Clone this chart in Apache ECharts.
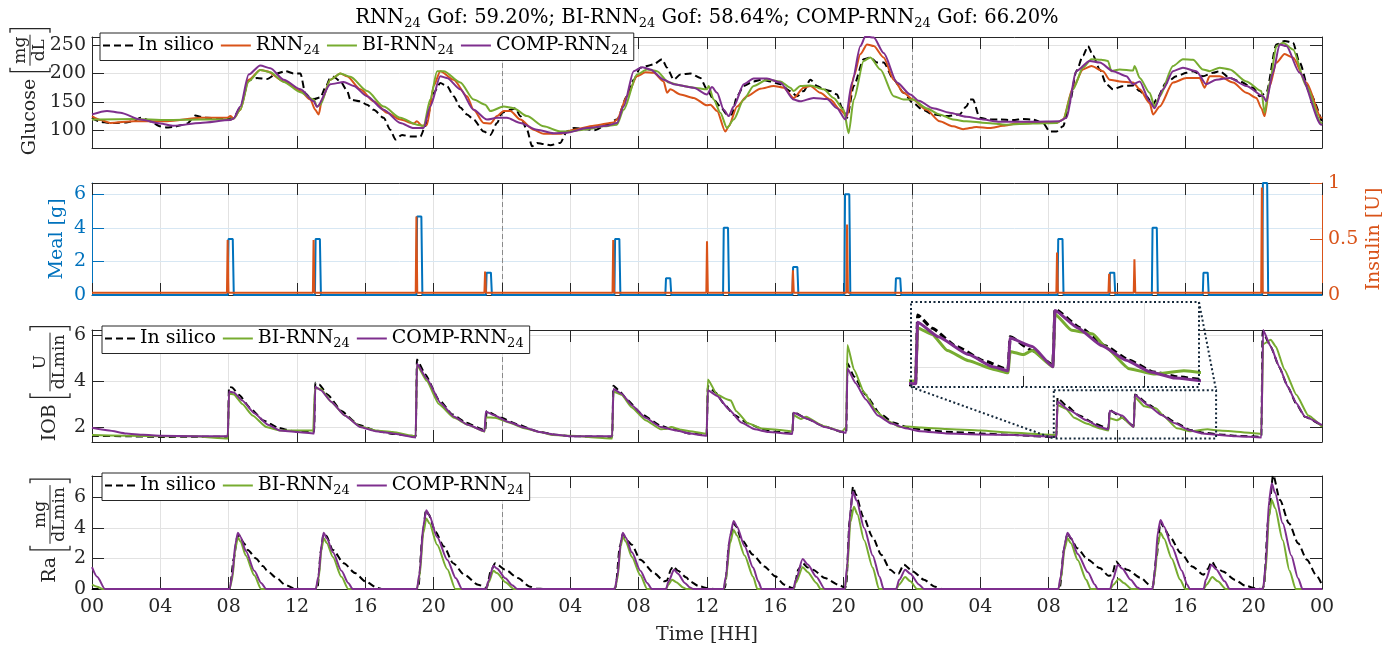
<!DOCTYPE html>
<html><head><meta charset="utf-8">
<script src="https://cdn.jsdelivr.net/npm/echarts@6/dist/echarts.min.js"></script>
<style>html,body{margin:0;padding:0;background:#fff}#c{width:1396px;height:650px}</style>
</head><body><div id="c"></div>
<script>
// ---------------- DATA (hours, value) ----------------
const gofValues = ['59.20', '58.64', '66.20'];
const gluTicks = [100, 150, 200, 250];
const mealTicks = [0, 2, 4, 6];
const iobTicks = [2, 4, 6];
const raTicks = [0, 2, 4, 6];
const insetXTicks = [60, 64];
const insetYTicks = [2];
const zoomX = [56.3, 65.8];
const zoomY = [1.5, 3.6];
const daySeparators = [24, 48];

const gluInSilico = [[0,122],[0.49,115],[1.0,113],[1.46,113],[2.0,114],[2.44,116],[2.83,122],[3.1,120],[3.41,116],[4.0,107],[4.39,105],[4.78,106],[5.2,109],[5.56,112],[6.05,126],[6.4,124],[6.73,122],[7.3,121],[7.9,120],[8.29,122],[8.68,140],[9.17,188],[9.66,192],[10.24,190],[10.83,200],[11.32,204],[11.8,200],[12.2,200],[12.49,165],[12.78,157],[13.0,155],[13.37,158],[13.66,175],[13.95,192],[14.15,194],[14.54,186],[14.93,170],[15.12,154],[15.71,151],[16.1,145],[16.49,136],[17.07,122],[17.46,101],[17.76,84],[18.15,92],[18.63,89],[19.22,89],[19.51,107],[20.0,166],[20.39,183],[20.78,178],[21.17,160],[21.56,140],[21.95,128],[22.34,119],[22.93,98],[23.32,92],[23.71,113],[24.0,131],[24.49,136],[24.78,139],[25.07,125],[25.46,101],[25.76,72],[26.05,78],[26.44,76],[26.83,74],[27.41,78],[27.8,98],[28.2,104],[28.98,102],[29.37,100],[30.15,110],[30.73,119],[31.32,160],[31.71,189],[32.1,210],[32.49,213],[32.88,216],[33.37,225],[33.66,210],[34.05,189],[34.44,198],[35.02,200],[35.61,192],[36.0,172],[36.39,154],[36.78,142],[37.17,128],[37.46,128],[37.76,160],[38.15,178],[38.73,186],[39.22,189],[39.71,186],[40.29,181],[40.88,169],[41.27,160],[41.66,169],[42.05,189],[42.44,178],[42.83,172],[43.22,169],[43.61,163],[43.9,140],[44.2,122],[44.59,178],[45.17,225],[45.56,228],[45.95,219],[46.34,219],[46.93,189],[47.51,166],[48.06,148],[48.64,136],[49.23,128],[50.01,125],[50.79,128],[51.18,142],[51.4,154],[51.57,154],[51.96,122],[52.55,119],[53.13,119],[53.91,118],[54.5,120],[55.08,119],[55.67,113],[56.06,98],[56.45,98],[56.84,107],[57.23,148],[57.62,204],[58.01,231],[58.3,248],[58.6,231],[58.99,207],[59.38,181],[59.77,172],[60.35,178],[60.94,179],[61.33,169],[61.72,160],[62.11,145],[62.3,154],[62.89,184],[63.47,195],[64.06,201],[64.45,204],[65.03,195],[65.62,201],[66.01,204],[66.6,192],[67.18,186],[67.96,175],[68.35,160],[68.74,166],[69.33,251],[69.81,257],[70.3,254],[70.69,219],[71.28,166],[72,114]];
const gluRNN = [[0,125],[0.5,118],[1.07,113],[2.44,116],[4.39,116],[6.34,122],[7.9,122],[8.1,125],[8.29,121],[8.68,136],[9.17,189],[9.85,206],[10.24,204],[11.22,186],[12.2,169],[12.78,154],[13.07,136],[13.27,128],[13.46,154],[13.95,189],[14.54,200],[14.93,195],[15.71,172],[16.49,151],[17.27,131],[18.05,119],[18.83,112],[19.02,116],[19.32,108],[19.61,110],[20.0,178],[20.39,204],[21.17,189],[21.95,160],[22.34,136],[22.93,113],[23.32,112],[23.71,125],[24.1,134],[24.49,134],[25.07,119],[25.85,101],[26.44,94],[27.41,94],[28.2,101],[29.37,108],[30.54,114],[30.73,119],[31.32,160],[31.9,195],[32.39,202],[32.88,201],[33.46,186],[33.66,166],[33.85,172],[34.44,163],[35.22,157],[36.0,144],[36.2,145],[36.59,134],[37.07,98],[37.27,107],[37.76,142],[38.34,160],[39.12,173],[39.9,178],[40.49,175],[41.07,157],[41.66,175],[42.05,178],[42.63,166],[43.22,154],[43.8,136],[44.2,125],[44.59,195],[44.98,234],[45.37,251],[45.76,248],[46.34,228],[46.93,189],[47.51,166],[48.06,154],[48.84,136],[49.62,116],[50.4,107],[50.99,102],[51.77,106],[52.55,104],[53.33,108],[54.11,112],[55.08,113],[56.45,113],[56.84,119],[57.42,175],[58.01,207],[58.5,213],[59.18,204],[59.57,189],[60.16,186],[60.94,184],[61.33,172],[61.91,148],[62.11,128],[62.5,142],[63.28,184],[64.06,192],[64.84,192],[65.13,175],[65.42,195],[66.01,195],[66.79,184],[67.57,166],[68.16,157],[68.45,139],[68.64,125],[68.94,178],[69.33,219],[69.81,234],[70.3,228],[71.08,184],[71.96,122],[72,121]];
const gluBI = [[0,119],[2.44,120],[4.39,118],[6.34,119],[8.1,119],[8.29,121],[8.68,136],[9.17,186],[9.85,206],[10.44,202],[11.22,185],[12.2,167],[12.98,154],[13.17,142],[13.37,145],[13.95,189],[14.54,200],[15.12,194],[16.1,169],[17.07,142],[18.05,122],[19.02,110],[19.41,108],[19.8,154],[20.2,204],[20.59,204],[21.56,184],[22.34,154],[23.02,145],[23.32,134],[24.1,142],[24.68,139],[25.46,125],[26.44,107],[27.41,98],[28.0,98],[28.98,102],[29.95,107],[30.73,110],[31.12,136],[31.9,198],[32.49,207],[33.07,204],[33.76,184],[34.44,179],[35.22,175],[36.0,172],[36.1,178],[36.39,154],[36.78,131],[37.17,104],[37.56,119],[38.15,154],[38.73,178],[39.51,189],[40.29,186],[40.88,175],[41.07,169],[41.46,178],[42.05,179],[42.83,172],[43.41,157],[44.0,136],[44.29,95],[44.59,154],[45.17,222],[45.56,228],[46.15,207],[46.93,160],[47.51,154],[48.06,154],[48.84,139],[49.62,128],[50.4,119],[51.18,116],[52.35,113],[53.52,110],[55.08,112],[56.45,113],[56.84,119],[57.42,172],[58.01,210],[58.5,225],[59.08,224],[59.47,222],[59.67,204],[60.16,207],[60.94,205],[61.03,213],[61.33,192],[61.91,166],[62.2,142],[62.5,160],[63.28,213],[63.86,225],[64.45,224],[65.03,207],[65.42,204],[66.01,210],[66.6,207],[67.57,186],[68.45,169],[68.64,131],[68.94,184],[69.33,248],[69.72,254],[70.3,242],[71.08,178],[71.96,113],[72,112]];
const gluCOMP = [[0,128],[0.88,134],[1.66,131],[2.83,119],[4.0,112],[4.78,108],[6.34,113],[8.1,118],[8.29,121],[8.68,142],[9.17,198],[9.85,214],[10.44,209],[11.22,189],[12.2,172],[12.98,151],[13.17,141],[13.95,181],[14.73,185],[15.32,178],[16.1,160],[17.07,136],[18.05,113],[18.83,104],[19.41,104],[19.8,142],[20.39,195],[20.78,192],[21.56,172],[22.34,136],[23.12,119],[23.71,122],[24.29,122],[25.07,113],[26.05,101],[27.02,95],[27.8,96],[28.98,104],[30.15,108],[30.73,113],[31.12,142],[31.71,204],[32.2,211],[32.68,207],[33.46,189],[34.05,181],[35.22,175],[36.0,163],[36.29,176],[36.59,166],[36.98,136],[37.27,125],[37.56,142],[38.15,181],[38.73,191],[39.51,191],[40.29,184],[41.07,154],[41.46,151],[42.24,157],[43.02,155],[43.61,139],[44.1,119],[44.49,184],[44.98,248],[45.27,265],[45.76,263],[46.34,236],[47.12,184],[47.9,163],[48.4,152],[49.23,139],[50.2,131],[51.18,124],[52.16,119],[53.13,115],[55.08,115],[56.64,116],[57.03,122],[57.62,204],[58.4,222],[58.99,219],[59.77,204],[60.55,195],[60.94,181],[61.33,186],[61.91,151],[62.2,139],[62.69,172],[63.28,204],[63.86,210],[64.64,204],[65.23,181],[65.81,189],[66.6,192],[67.57,178],[68.55,160],[68.74,151],[69.13,201],[69.52,251],[69.91,248],[70.69,201],[71.96,110],[72,109]];

const mealData = [[0,0],[7.95,0],[7.99,3.33],[8.24,3.33],[8.3,0],[13.05,0],[13.09,3.33],[13.34,3.33],[13.4,0],[18.99,0],[19.03,4.67],[19.28,4.67],[19.34,0],[23.06,0],[23.1,1.33],[23.35,1.33],[23.41,0],[30.58,0],[30.62,3.33],[30.87,3.33],[30.93,0],[33.56,0],[33.6,1.0],[33.85,1.0],[33.91,0],[36.94,0],[36.98,4.0],[37.23,4.0],[37.29,0],[41.0,0],[41.04,1.67],[41.29,1.67],[41.35,0],[44.04,0],[44.08,6.0],[44.33,6.0],[44.39,0],[47.02,0],[47.06,1.0],[47.31,1.0],[47.37,0],[56.52,0],[56.56,3.33],[56.81,3.33],[56.87,0],[59.55,0],[59.59,1.33],[59.84,1.33],[59.9,0],[62.04,0],[62.08,4.0],[62.33,4.0],[62.39,0],[65.02,0],[65.06,1.33],[65.31,1.33],[65.37,0],[68.5,0],[68.54,6.67],[68.79,6.67],[68.85,0],[72,0]];
const insulinData = [[0,0.02],[7.9,0.02],[7.94,0.49],[7.99,0.02],[12.93,0.02],[12.97,0.49],[13.02,0.02],[18.95,0.02],[18.99,0.70],[19.04,0.02],[22.97,0.02],[23.01,0.21],[23.06,0.02],[30.47,0.02],[30.51,0.49],[30.56,0.02],[35.96,0.02],[36.0,0.48],[36.05,0.02],[40.99,0.02],[41.03,0.22],[41.08,0.02],[44.16,0.02],[44.2,0.63],[44.25,0.02],[56.45,0.02],[56.49,0.38],[56.54,0.02],[59.5,0.02],[59.54,0.19],[59.59,0.02],[60.98,0.02],[61.02,0.32],[61.07,0.02],[68.44,0.02],[68.48,0.96],[68.53,0.02],[72,0.02]];

const iobInSilico = [[0,1.62],[2,1.6],[4,1.57],[6,1.58],[7.95,1.58],[8.02,3.75],[8.2,3.72],[8.6,3.4],[9.3,2.8],[10,2.3],[10.9,1.97],[11.7,1.83],[13.0,1.8],[13.07,3.93],[13.3,3.85],[13.8,3.4],[14.6,2.7],[15.6,2.1],[16.6,1.85],[17.6,1.7],[18.95,1.6],[19.02,4.94],[19.5,4.3],[20.3,3.2],[21.1,2.55],[21.9,2.19],[22.9,1.88],[23.02,1.85],[23.1,2.7],[23.9,2.41],[24.9,2.12],[26,1.83],[27,1.68],[28,1.6],[30.45,1.58],[30.52,3.8],[30.9,3.55],[31.3,3.2],[32.2,2.55],[33.3,2.05],[34,1.9],[35,1.72],[35.98,1.66],[36.05,3.78],[36.5,3.5],[37.0,3.0],[37.6,2.52],[38.4,2.16],[39.2,1.92],[40,1.8],[41,1.72],[41.06,2.66],[41.8,2.38],[42.8,2.05],[43.8,1.8],[44.15,1.77],[44.22,4.77],[44.6,4.2],[45.3,3.4],[46.1,2.6],[46.9,2.2],[47.7,2.0],[48.5,1.9],[50,1.8],[52,1.72],[54,1.65],[56.45,1.55],[56.52,3.28],[57,2.95],[57.8,2.5],[58.7,2.15],[59.5,1.93],[59.57,2.74],[60.3,2.4],[60.98,2.05],[61.05,3.42],[61.9,2.96],[62.7,2.52],[63.5,2.16],[64.3,1.87],[65.1,1.75],[66,1.68],[67,1.62],[68.45,1.58],[68.52,6.15],[69,5.5],[69.5,4.6],[70,3.75],[70.5,3.0],[71,2.45],[72,2.05]];
const iobBI = [[0,1.65],[2,1.62],[4,1.6],[6,1.6],[7.95,1.5],[8.02,3.45],[8.3,3.42],[8.8,3.0],[9.4,2.5],[10.2,2.0],[11,1.85],[12.95,1.85],[13.05,3.7],[13.4,3.65],[14,3.1],[14.8,2.5],[15.7,2.02],[16.6,1.85],[17.6,1.78],[18.95,1.6],[19.02,4.7],[19.6,4.0],[20.3,3.0],[21.2,2.4],[22,2.1],[22.98,1.8],[23.05,2.42],[23.6,2.4],[24.4,2.2],[25.3,1.95],[26.2,1.78],[27,1.65],[28,1.62],[30.45,1.5],[30.52,3.55],[31,3.4],[31.6,2.85],[32.4,2.3],[33.3,1.9],[33.6,1.92],[33.9,2.0],[34.5,1.88],[35,1.82],[35.98,1.7],[36.05,4.07],[36.6,3.4],[37.2,3.2],[37.4,3.15],[37.7,2.7],[38.4,2.16],[39.2,1.94],[40.3,1.87],[41.0,1.8],[41.06,2.52],[41.5,2.35],[41.8,2.45],[42.8,2.05],[43.9,1.8],[44.15,2.0],[44.22,5.57],[44.6,4.5],[45.2,3.5],[45.9,2.7],[46.5,2.3],[47.3,2.0],[47.7,2.02],[48.5,1.98],[50,1.92],[52,1.85],[54,1.75],[56.45,1.65],[56.52,2.96],[57.0,2.8],[57.5,2.4],[58.2,2.15],[59.0,1.94],[59.5,1.85],[59.57,2.38],[60.0,2.3],[60.3,2.4],[60.98,2.0],[61.05,3.3],[61.6,2.9],[62.0,2.85],[62.3,2.81],[62.7,2.5],[63.5,1.95],[64.3,1.82],[65.3,1.9],[66,1.85],[67,1.8],[68.45,1.7],[68.55,5.6],[69.0,5.8],[69.3,5.5],[69.8,4.5],[70.5,3.4],[71.2,2.5],[72,2.01]];
const iobCOMP = [[0,1.97],[1,1.85],[2,1.72],[3,1.66],[4,1.62],[6,1.6],[7.95,1.6],[8.02,3.55],[8.3,3.5],[8.8,3.15],[9.5,2.6],[10.3,2.1],[11,1.85],[12,1.78],[13.0,1.72],[13.07,3.75],[13.4,3.6],[14,3.1],[14.8,2.5],[15.7,2.0],[16.6,1.82],[17.6,1.72],[18.95,1.55],[19.02,4.75],[19.6,4.1],[20.4,3.05],[21.2,2.45],[22,2.1],[22.98,1.82],[23.05,2.68],[23.5,2.52],[24.4,2.22],[25.3,1.98],[26.2,1.78],[27,1.68],[28,1.6],[30.45,1.6],[30.52,3.65],[31,3.45],[31.6,2.95],[32.4,2.4],[33.3,2.0],[34.2,1.85],[35,1.72],[35.98,1.62],[36.05,3.6],[36.6,3.35],[37.3,2.75],[38.0,2.2],[38.8,1.9],[39.6,1.78],[41.0,1.7],[41.06,2.62],[41.9,2.35],[42.9,2.0],[44.15,1.75],[44.22,4.55],[44.7,3.9],[45.3,3.2],[46,2.5],[46.8,2.15],[47.6,1.95],[48.5,1.82],[50,1.72],[52,1.68],[54,1.65],[56.45,1.58],[56.52,3.1],[57.2,2.74],[58.2,2.3],[59.0,2.0],[59.5,1.9],[59.57,2.71],[60.3,2.5],[60.98,2.0],[61.05,3.39],[61.8,2.96],[62.6,2.52],[63.4,2.16],[64.2,1.87],[65,1.72],[66,1.65],[67,1.6],[68.45,1.55],[68.55,6.22],[69,5.5],[69.5,4.62],[70.0,3.75],[70.5,3.03],[71,2.45],[72,2.08]];

const raInSilico = [[0,0],[7.95,0],[8.07,0.05],[8.3,2.0],[8.5,3.4],[8.6,3.54],[8.9,3.0],[9.12,2.56],[9.6,2.0],[10.0,1.5],[10.3,1.15],[10.8,0.72],[11.3,0.28],[11.8,0.05],[12.2,0],[13.1,0],[13.2,0.1],[13.4,2.5],[13.55,3.6],[13.7,3.5],[14.1,2.56],[14.74,1.69],[15.4,1.04],[16.0,0.5],[16.7,0.07],[17.0,0],[19.0,0],[19.1,0.1],[19.35,3.5],[19.55,5.16],[19.7,4.9],[20.1,3.75],[20.6,2.78],[21.14,1.69],[21.8,0.93],[22.6,0.28],[23.1,0.07],[23.35,1.2],[23.6,1.69],[24.2,1.26],[24.93,0.72],[25.6,0.17],[26,0.02],[26.5,0],[30.55,0],[30.65,0.1],[30.9,2.8],[31.07,3.6],[31.3,3.2],[31.6,2.89],[32.1,1.91],[32.9,1.04],[33.5,0.5],[33.65,0.55],[33.9,1.3],[34.0,1.48],[34.3,1.2],[34.8,0.75],[35.0,0.5],[35.5,0.2],[36.05,0.05],[36.4,0],[36.95,0],[37.05,0.1],[37.3,3.0],[37.56,4.3],[37.7,4.1],[38.03,3.22],[38.7,2.24],[39.35,1.48],[40.0,0.83],[40.54,0.28],[41.0,0.07],[41.1,0.1],[41.35,1.3],[41.6,1.7],[41.9,1.4],[42.2,1.26],[42.9,0.72],[43.7,0.28],[44.1,0.07],[44.15,0.3],[44.35,4.5],[44.55,6.7],[44.7,6.2],[45.15,4.74],[45.68,3.43],[46.2,2.24],[46.73,1.26],[47.1,0.95],[47.2,1.0],[47.52,1.59],[48.05,1.15],[48.7,0.61],[49.3,0.17],[49.76,0],[56.55,0],[56.65,0.1],[56.9,2.6],[57.1,3.65],[57.3,3.3],[57.67,2.67],[58.3,1.91],[59.0,1.37],[59.5,0.87],[59.7,0.9],[59.95,1.8],[60.2,1.5],[60.6,1.26],[61.4,0.72],[61.9,0.28],[62.1,0.15],[62.3,2.0],[62.55,4.41],[62.7,4.1],[63.08,3.43],[63.74,2.35],[64.4,1.48],[65.06,0.93],[65.3,1.3],[65.55,1.8],[65.8,1.4],[66.2,1.15],[66.9,0.61],[67.5,0.22],[68.1,0.05],[68.5,0],[68.6,0.2],[68.85,4.5],[69.14,7.46],[69.54,5.83],[70.07,4.3],[70.6,3.0],[71.12,1.91],[71.65,0.93],[72,0.28]];
const raBI = [[0,0.28],[0.3,0.15],[0.63,0],[8.05,0],[8.2,0.6],[8.4,2.7],[8.54,3.38],[8.7,3.1],[9.0,2.2],[9.5,0.9],[9.9,0],[13.1,0],[13.25,0.6],[13.45,2.7],[13.56,3.32],[13.75,3.0],[14.1,2.1],[14.6,0.8],[15.0,0],[19.02,0],[19.17,0.8],[19.4,3.7],[19.57,4.62],[19.75,4.3],[20.2,2.9],[20.8,1.3],[21.27,0],[23.07,0],[23.2,0.4],[23.5,1.19],[23.7,1.05],[24.2,0.45],[24.7,0],[30.6,0],[30.75,0.6],[30.95,2.8],[31.07,3.43],[31.25,3.1],[31.6,2.1],[32.1,0.9],[32.5,0],[33.6,0],[33.75,0.3],[33.95,0.61],[34.2,0.45],[34.6,0.1],[34.8,0],[36.97,0],[37.1,0.6],[37.35,3.0],[37.56,3.87],[37.75,3.5],[38.2,2.2],[38.7,0.8],[38.95,0],[41.05,0],[41.2,0.4],[41.6,1.43],[41.9,1.1],[42.4,0.4],[42.65,0],[44.07,0],[44.2,1.2],[44.4,4.4],[44.6,5.39],[44.8,4.9],[45.2,3.2],[45.7,1.4],[46.07,0],[47.07,0],[47.25,0.3],[47.6,0.78],[47.9,0.5],[48.3,0],[56.57,0],[56.7,0.6],[56.95,2.7],[57.1,3.32],[57.3,3.0],[57.7,1.9],[58.2,0.6],[58.46,0],[59.6,0],[59.8,0.3],[60.1,0.65],[60.4,0.4],[60.84,0],[62.08,0],[62.2,0.8],[62.4,3.0],[62.55,3.69],[62.75,3.3],[63.2,2.0],[63.7,0.6],[64.0,0],[65.07,0],[65.25,0.3],[65.58,0.78],[65.9,0.5],[66.37,0],[68.55,0],[68.7,1.2],[68.9,4.8],[69.06,5.83],[69.25,5.3],[69.7,3.2],[70.1,1.2],[70.46,0],[72,0]];
const raCOMP = [[0,1.43],[0.3,0.8],[0.76,0],[8.05,0],[8.2,0.8],[8.4,3.0],[8.54,3.69],[8.7,3.4],[9.0,2.5],[9.5,1.2],[9.9,0.4],[10.2,0],[13.1,0],[13.25,0.8],[13.45,3.0],[13.56,3.69],[13.75,3.3],[14.1,2.4],[14.6,1.2],[15.0,0.4],[15.26,0],[19.02,0],[19.17,1.0],[19.4,4.2],[19.57,5.16],[19.75,4.8],[20.2,3.4],[20.8,1.9],[21.3,0.7],[21.66,0],[23.07,0],[23.2,0.5],[23.5,1.52],[23.7,1.35],[24.2,0.7],[24.6,0.25],[24.9,0],[30.6,0],[30.75,0.8],[30.95,3.0],[31.07,3.69],[31.25,3.35],[31.6,2.4],[32.1,1.2],[32.5,0.4],[32.77,0],[33.6,0],[33.75,0.5],[34.07,1.26],[34.3,1.0],[34.7,0.4],[35.0,0.1],[35.2,0],[36.97,0],[37.1,0.8],[37.35,3.5],[37.56,4.46],[37.75,4.1],[38.2,2.8],[38.7,1.4],[39.0,0.5],[39.2,0],[41.05,0],[41.2,0.6],[41.6,1.96],[41.9,1.6],[42.4,0.8],[42.9,0],[44.07,0],[44.2,1.5],[44.4,5.2],[44.54,6.37],[44.75,5.8],[45.2,4.0],[45.7,2.2],[46.1,0.8],[46.34,0],[47.07,0],[47.25,0.6],[47.6,1.26],[47.9,1.0],[48.4,0.3],[48.7,0],[56.57,0],[56.7,0.8],[56.95,3.0],[57.1,3.69],[57.3,3.35],[57.7,2.3],[58.3,1.1],[58.7,0.3],[58.86,0],[59.6,0],[59.75,0.6],[60.05,1.59],[60.3,1.35],[60.8,0.6],[61.2,0.1],[61.36,0],[62.08,0],[62.2,1.0],[62.4,3.8],[62.55,4.52],[62.75,4.1],[63.2,2.8],[63.8,1.2],[64.1,0.3],[64.26,0],[65.07,0],[65.2,0.6],[65.53,1.59],[65.8,1.3],[66.3,0.5],[66.6,0],[68.55,0],[68.7,1.5],[68.9,5.8],[69.06,6.91],[69.25,6.3],[69.7,4.3],[70.2,2.2],[70.6,0.7],[70.86,0],[72,0]];

// ---------------- STYLE ----------------
const FF = 'DejaVu Serif', FS = 19;
const AX = '#262626', GRID = '#e2e2e2', GRIDB = '#d7e7f3', SEP = '#8a8a8a';
const C = {sil:'#000000', rnn:'#D95319', bi:'#77AC30', comp:'#7E2F8E', meal:'#0072BD', ins:'#D95319'};
const grids = [
  {left:92, top:37, width:1230, height:111},
  {left:92, top:183, width:1230, height:112},
  {left:92, top:330, width:1230, height:112},
  {left:92, top:476, width:1230, height:113},
  {left:911, top:302, width:288, height:85, show:true, backgroundColor:'#ffffff', borderWidth:0, z:1}
];
const yRanges = [[69,264],[0,6.67],[1.35,6.22],[0,7.4]];
const yTickSets = [gluTicks, mealTicks, iobTicks, raTicks];
const gridTickSets = [gluTicks, [2,4,6], iobTicks, [2,4,6]];

function fmtHour(v){ return String(Math.round(v) % 24).padStart(2,'0'); }
const ctx = document.createElement('canvas').getContext('2d');
function tw(t, s){ ctx.font = s + 'px "' + FF + '"'; return ctx.measureText(t).width; }
function font(s){ return s + 'px "' + FF + '"'; }

const xAxis = [], yAxis = [];
for (let g = 0; g < 4; g++) {
  xAxis.push({type:'value', gridIndex:g, min:0, max:72, interval:4, position:'bottom',
    axisLine:{show:true, onZero:false, lineStyle:{color:AX, width:1}},
    axisTick:{show:true, inside:true, length:12, lineStyle:{color:AX, width:1}},
    axisLabel:{show:g===3, formatter:fmtHour, fontFamily:FF, fontSize:FS, color:AX, margin:9},
    splitLine:{show:true, lineStyle:{color:GRID, width:1}},
    name: g===3 ? 'Time [HH]' : '', nameLocation:'middle', nameGap:37,
    nameTextStyle:{fontFamily:FF, fontSize:FS, color:AX}});
  xAxis.push({type:'value', gridIndex:g, min:0, max:72, interval:4, position:'top',
    axisLine:{show:true, onZero:false, lineStyle:{color:AX, width:1}},
    axisTick:{show:true, inside:true, length:12, lineStyle:{color:AX, width:1}},
    axisLabel:{show:false}, splitLine:{show:false}});
  const lc = g===1 ? C.meal : AX;
  yAxis.push({type:'value', gridIndex:g, min:yRanges[g][0], max:yRanges[g][1], position:'left',
    axisLine:{show:true, onZero:false, lineStyle:{color:lc, width:1}},
    axisTick:{show:true, inside:true, length:12, customValues:yTickSets[g], lineStyle:{color:lc, width:1}},
    axisLabel:{show:true, customValues:yTickSets[g], fontFamily:FF, fontSize:FS, color:lc, margin:6},
    splitLine:{show:false}});
  if (g === 1) {
    yAxis.push({type:'value', gridIndex:g, min:0, max:1, interval:0.5, position:'right',
      axisLine:{show:true, onZero:false, lineStyle:{color:C.ins, width:1}},
      axisTick:{show:true, inside:true, length:12, lineStyle:{color:C.ins, width:1}},
      axisLabel:{show:true, fontFamily:FF, fontSize:FS, color:C.ins, margin:6},
      splitLine:{show:false}});
  } else {
    yAxis.push({type:'value', gridIndex:g, min:yRanges[g][0], max:yRanges[g][1], position:'right',
      axisLine:{show:true, onZero:false, lineStyle:{color:AX, width:1}},
      axisTick:{show:true, inside:true, length:12, customValues:yTickSets[g], lineStyle:{color:AX, width:1}},
      axisLabel:{show:false}, splitLine:{show:false}});
  }
}
// inset axes (index 8, 9)
xAxis.push({type:'value', gridIndex:4, min:zoomX[0], max:zoomX[1], position:'bottom', z:2,
  axisLine:{show:false}, axisTick:{show:true, inside:true, length:11, customValues:insetXTicks, lineStyle:{color:AX, width:1}},
  axisLabel:{show:false}, splitLine:{show:false}});
xAxis.push({type:'value', gridIndex:4, min:zoomX[0], max:zoomX[1], position:'top', show:false});
yAxis.push({type:'value', gridIndex:4, min:zoomY[0], max:zoomY[1], position:'left', show:false});
yAxis.push({type:'value', gridIndex:4, min:zoomY[0], max:zoomY[1], position:'right', show:false});

function ln(name, data, color, xi, yi, extra) {
  return Object.assign({type:'line', name:name, data:data, xAxisIndex:xi, yAxisIndex:yi,
    symbol:'none', showSymbol:false, smooth:0.25, smoothMonotone:'x', animation:false, z:2,
    lineStyle:{color:color, width:2}, itemStyle:{color:color}, emphasis:{disabled:true}}, extra || {});
}
const dash = [7,4];
function carrier(g, xi, yi, ticks, gcol) {
  const d = ticks.map(v => ({yAxis:v}));
  daySeparators.forEach(h => d.push({xAxis:h, lineStyle:{color:SEP, width:1, type:[5,3]}}));
  return {type:'line', name:'grid'+g, data:[], xAxisIndex:xi, yAxisIndex:yi, silent:true,
    markLine:{silent:true, symbol:['none','none'], z:0, animation:false, label:{show:false}, emphasis:{disabled:true},
      lineStyle:{color:gcol, width:1, type:'solid'}, data:d}};
}

const series = [
  carrier(0, 0, 0, gridTickSets[0], GRID),
  ln('In silico', gluInSilico, C.sil, 0, 0, {lineStyle:{color:C.sil, width:2, type:dash}}),
  ln('RNN24', gluRNN, C.rnn, 0, 0),
  ln('BI-RNN24', gluBI, C.bi, 0, 0),
  ln('COMP-RNN24', gluCOMP, C.comp, 0, 0),
  carrier(1, 2, 2, gridTickSets[1], GRIDB),
  ln('Meal', mealData, C.meal, 2, 2, {smooth:false}),
  ln('Insulin', insulinData, C.ins, 2, 3, {smooth:false}),
  carrier(2, 4, 4, gridTickSets[2], GRID),
  ln('In silico', iobInSilico, C.sil, 4, 4, {smooth:0.15, lineStyle:{color:C.sil, width:2, type:dash}}),
  ln('BI-RNN24', iobBI, C.bi, 4, 4, {smooth:0.15}),
  ln('COMP-RNN24', iobCOMP, C.comp, 4, 4, {smooth:0.15}),
  carrier(3, 6, 6, gridTickSets[3], GRID),
  ln('In silico', raInSilico, C.sil, 6, 6, {lineStyle:{color:C.sil, width:2, type:dash}}),
  ln('BI-RNN24', raBI, C.bi, 6, 6),
  ln('COMP-RNN24', raCOMP, C.comp, 6, 6),
  {type:'line', name:'grid4', data:[], xAxisIndex:8, yAxisIndex:8, silent:true, z:2,
    markLine:{silent:true, symbol:['none','none'], z:2, animation:false, label:{show:false}, emphasis:{disabled:true},
      lineStyle:{color:GRID, width:1, type:'solid'},
      data: insetXTicks.map(v => ({xAxis:v})).concat(insetYTicks.map(v => ({yAxis:v})))}},
  ln('In silico', iobInSilico, C.sil, 8, 8, {z:3, smooth:0.15, lineStyle:{color:C.sil, width:3, type:dash}}),
  ln('BI-RNN24', iobBI, C.bi, 8, 8, {z:3, smooth:0.15, lineStyle:{color:C.bi, width:3}}),
  ln('COMP-RNN24', iobCOMP, C.comp, 8, 8, {z:3, smooth:0.15, lineStyle:{color:C.comp, width:3}})
];

const richSub = {
  n:{fontFamily:FF, fontSize:FS, lineHeight:24, color:'#000'},
  s:{fontFamily:FF, fontSize:13, lineHeight:12, verticalAlign:'bottom', color:'#000'}
};
const nameFmt = {'In silico':'{n|In silico}', 'RNN24':'{n|RNN}{s|24}', 'BI-RNN24':'{n|BI-RNN}{s|24}', 'COMP-RNN24':'{n|COMP-RNN}{s|24}'};
const dashIcon = 'path://M0,0H7V2H0Z M11,0H18V2H11Z M22,0H30V2H22Z';
function legendAt(left, top, names) {
  return {left:left, top:top, orient:'horizontal', selectedMode:false,
    data: names.map(n => ({name:n, icon: n === 'In silico' ? dashIcon : 'rect'})),
    itemWidth:30, itemHeight:2, itemGap:7, padding:[3,6,3,3], symbolKeepAspect:false,
    itemStyle:{borderWidth:0}, lineStyle:{width:0},
    borderColor:AX, borderWidth:1, backgroundColor:'#fff', z:6,
    formatter: n => nameFmt[n],
    textStyle:{fontFamily:FF, fontSize:FS, color:'#000', rich:richSub}};
}

function fracLabel(id, cx, cy, main, num, den, color, fs, ffs, H) {
  const gap = 7, bw = 4, pad = 2;
  const mw = tw(main, fs);
  const fw = Math.max(tw(num, ffs), tw(den, ffs)) + 4;
  const total = mw + gap + bw + pad + fw + pad + bw;
  let x = -total / 2;
  const ch = [];
  ch.push({type:'text', x:x, y:0, style:{text:main, font:font(fs), fill:color, align:'left', verticalAlign:'middle'}});
  x += mw + gap;
  ch.push({type:'polyline', shape:{points:[[x+bw,-H/2],[x,-H/2],[x,H/2],[x+bw,H/2]]}, style:{stroke:color, lineWidth:1.3, fill:null}});
  x += bw + pad;
  ch.push({type:'text', x:x+fw/2, y:-1, style:{text:num, font:font(ffs), fill:color, align:'center', verticalAlign:'bottom'}});
  ch.push({type:'line', shape:{x1:x, y1:0, x2:x+fw, y2:0}, style:{stroke:color, lineWidth:1}});
  ch.push({type:'text', x:x+fw/2, y:1, style:{text:den, font:font(ffs), fill:color, align:'center', verticalAlign:'top'}});
  x += fw + pad;
  ch.push({type:'polyline', shape:{points:[[x,-H/2],[x+bw,-H/2],[x+bw,H/2],[x,H/2]]}, style:{stroke:color, lineWidth:1.3, fill:null}});
  return {type:'group', id:id, x:cx, y:cy, rotation:Math.PI/2, z:10, children:ch};
}
function vText(id, cx, cy, text, color) {
  return {type:'text', id:id, x:cx, y:cy, rotation:Math.PI/2, z:10,
    style:{text:text, font:font(FS), fill:color, align:'center', verticalAlign:'middle'}};
}

const titleText = '{n|RNN}{s|24}{n| Gof: ' + gofValues[0] + '%; BI-RNN}{s|24}{n| Gof: ' + gofValues[1] +
  '%; COMP-RNN}{s|24}{n| Gof: ' + gofValues[2] + '%}';
const titleRich = {
  n:{fontFamily:FF, fontSize:19.5, lineHeight:24, color:'#000'},
  s:{fontFamily:FF, fontSize:13, lineHeight:12, verticalAlign:'bottom', color:'#000'}
};

const graphics = [
  {type:'text', id:'title', x:707, y:18, z:10, style:{text:titleText, rich:titleRich, font:font(19.5), fill:'#000', align:'center', verticalAlign:'middle'}},
  fracLabel('yl0', 30, 92, 'Glucose', 'mg', 'dL', AX, FS, 17, 40),
  vText('yl1', 57, 239, 'Meal [g]', C.meal),
  vText('yl1r', 1374, 239, 'Insulin [U]', C.ins),
  fracLabel('yl2', 50, 384, 'IOB', 'U', 'dLmin', AX, FS, 17, 40),
  fracLabel('yl3', 50, 531, 'Ra', 'mg', 'dLmin', AX, FS, 17, 40)
];

const chart = echarts.init(document.getElementById('c'), null, {renderer:'canvas'});
chart.setOption({
  animation:false,
  backgroundColor:'#ffffff',
  grid:grids, xAxis:xAxis, yAxis:yAxis, series:series,
  legend:[
    legendAt(100, 33, ['In silico','RNN24','BI-RNN24','COMP-RNN24']),
    legendAt(102, 326, ['In silico','BI-RNN24','COMP-RNN24']),
    legendAt(102, 473, ['In silico','BI-RNN24','COMP-RNN24'])
  ],
  graphic:{elements:graphics}
});

// inset frame and connectors, placed through the axes
const iTL = chart.convertToPixel({xAxisIndex:8, yAxisIndex:8}, [zoomX[0], zoomY[1]]);
const iBR = chart.convertToPixel({xAxisIndex:8, yAxisIndex:8}, [zoomX[1], zoomY[0]]);
const sTL = chart.convertToPixel({xAxisIndex:4, yAxisIndex:4}, [zoomX[0], zoomY[1]]);
const sBR = chart.convertToPixel({xAxisIndex:4, yAxisIndex:4}, [zoomX[1], zoomY[0]]);
const dot = {stroke:'#15293b', lineWidth:2, lineDash:[2,2.5], fill:null};
chart.setOption({graphic:{elements:[
  {type:'rect', id:'insetFrame', z:11, shape:{x:iTL[0], y:iTL[1], width:iBR[0]-iTL[0], height:iBR[1]-iTL[1]}, style:dot},
  {type:'rect', id:'srcFrame', z:11, shape:{x:sTL[0], y:sTL[1], width:sBR[0]-sTL[0], height:sBR[1]-sTL[1]}, style:dot},
  {type:'line', id:'con1', z:11, shape:{x1:iTL[0], y1:iBR[1], x2:sTL[0], y2:sBR[1]}, style:dot},
  {type:'line', id:'con2', z:11, shape:{x1:iBR[0], y1:iTL[1], x2:sBR[0], y2:sTL[1]}, style:dot}
]}});
</script></body></html>
